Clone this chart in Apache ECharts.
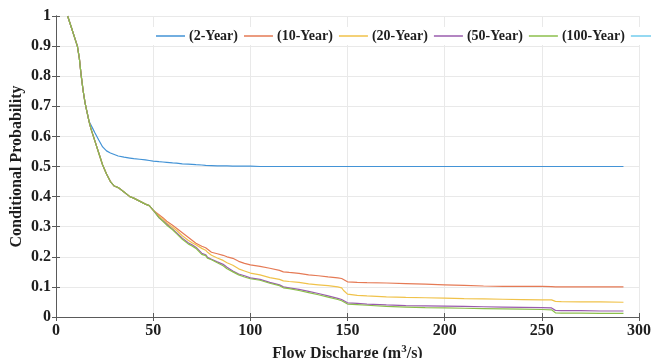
<!DOCTYPE html>
<html>
<head>
<meta charset="utf-8">
<script src="https://cdn.jsdelivr.net/npm/echarts@6/dist/echarts.min.js"></script>
<style>
  html, body { margin: 0; padding: 0; background: #fff; }
  #chart { width: 651px; height: 358px; }
</style>
</head>
<body>
<div id="chart"></div>
<script>
// flow discharge (m3/s) sample points
const discharge = [6, 8, 10, 11, 12, 13, 14, 15, 16, 17, 18, 19, 20, 22, 24, 26, 28, 30, 32, 35, 38, 40, 43, 46, 48, 50,
  53, 55, 57, 60, 62, 65, 68, 70, 72, 75, 77, 78, 80, 83, 86, 88, 91, 94, 97, 100, 105, 110, 115, 117, 120, 125, 130,
  135, 140, 145, 147, 148, 150, 155, 160, 170, 180, 190, 200, 210, 220, 230, 240, 250, 255, 257, 260, 270, 280, 292]

const year2 = [1, 0.96, 0.92, 0.9, 0.86, 0.8, 0.75, 0.71, 0.68, 0.65, 0.638, 0.625, 0.612, 0.588, 0.565, 0.552, 0.545, 0.54, 0.535, 0.531, 0.528, 0.526,
  0.524, 0.522, 0.52, 0.518, 0.516, 0.515, 0.514, 0.512, 0.511, 0.509, 0.508, 0.507, 0.506, 0.505, 0.504, 0.504, 0.503, 0.502, 0.502,
  0.502, 0.501, 0.501, 0.501, 0.501, 0.5, 0.5, 0.5, 0.5, 0.5, 0.5, 0.5, 0.5, 0.5, 0.5, 0.5, 0.5, 0.5, 0.5, 0.5, 0.5, 0.5, 0.5, 0.5,
  0.5, 0.5, 0.5, 0.5, 0.5, 0.5, 0.5, 0.5, 0.5, 0.5, 0.5]
const common = [1, 0.96, 0.92, 0.9, 0.86, 0.8, 0.75, 0.71, 0.68, 0.65, 0.625, 0.605, 0.585, 0.545, 0.505, 0.475, 0.45, 0.435, 0.43, 0.415,
  0.4, 0.395, 0.385, 0.375, 0.37, 0.355]
const year10 = common.concat([0.34, 0.33, 0.318, 0.305, 0.295, 0.28, 0.265, 0.255, 0.245, 0.235, 0.23, 0.225, 0.215, 0.21, 0.205, 0.2, 0.195,
  0.185, 0.178, 0.173, 0.168, 0.162, 0.155, 0.15, 0.148, 0.145, 0.14, 0.137, 0.133, 0.13, 0.128, 0.122, 0.117, 0.115, 0.114,
  0.113, 0.111, 0.109, 0.107, 0.105, 0.103, 0.102, 0.102, 0.102, 0.101, 0.1, 0.1, 0.1, 0.1, 0.1])
const year20 = common.concat([0.335, 0.325, 0.312, 0.298, 0.288, 0.27, 0.255, 0.247, 0.24, 0.228, 0.222, 0.215, 0.205, 0.196, 0.188, 0.18, 0.172,
  0.16, 0.153, 0.146, 0.14, 0.131, 0.125, 0.12, 0.118, 0.115, 0.11, 0.107, 0.104, 0.1, 0.097, 0.088, 0.076, 0.072, 0.07,
  0.067, 0.065, 0.064, 0.063, 0.061, 0.06, 0.059, 0.058, 0.057, 0.057, 0.052, 0.051, 0.05, 0.05, 0.049])
const year50 = common.concat([0.33, 0.32, 0.308, 0.292, 0.28, 0.262, 0.247, 0.24, 0.232, 0.212, 0.207, 0.198, 0.192, 0.183, 0.175, 0.165, 0.153,
  0.143, 0.137, 0.13, 0.125, 0.115, 0.107, 0.1, 0.097, 0.092, 0.085, 0.078, 0.07, 0.062, 0.058, 0.052, 0.047, 0.045, 0.043,
  0.04, 0.038, 0.037, 0.036, 0.035, 0.034, 0.033, 0.032, 0.031, 0.03, 0.022, 0.021, 0.021, 0.02, 0.02])
const year100 = common.concat([0.33, 0.318, 0.305, 0.29, 0.277, 0.258, 0.243, 0.236, 0.228, 0.208, 0.204, 0.195, 0.19, 0.18, 0.17, 0.16, 0.15,
  0.14, 0.133, 0.127, 0.122, 0.112, 0.104, 0.097, 0.094, 0.088, 0.081, 0.074, 0.066, 0.058, 0.054, 0.048, 0.043, 0.041, 0.039,
  0.035, 0.033, 0.031, 0.03, 0.029, 0.028, 0.027, 0.026, 0.025, 0.024, 0.014, 0.013, 0.013, 0.012, 0.012])

const seriesNames = ['(2-Year)', '(10-Year)', '(20-Year)', '(50-Year)', '(100-Year)', '(500-Year)']
const seriesValues = [year2, year10, year20, year50, year100, []]
const colors = ['#4393d6', '#e57a55', '#f0c24a', '#9a5cae', '#8cbf4c', '#72cdee']

const font = 'Liberation Serif'
const axisColor = '#5a5a5a'
const textColor = '#1e1e1e'

const chart = echarts.init(document.getElementById('chart'))

const pair = (vals) => vals.map((v, i) => [discharge[i], v])

chart.setOption({
  animation: false,
  color: colors,
  grid: { left: 56, right: 12, top: 16, bottom: 41, outerBoundsMode: 'none' },
  legend: {
    left: 153,
    top: 27,
    width: 900,
    padding: [2, 3],
    backgroundColor: '#fff',
    icon: 'rect',
    itemWidth: 29,
    itemHeight: 1.5,
    itemGap: 6,
    textStyle: { fontFamily: font, fontWeight: 'bold', fontSize: 14, color: textColor, padding: [0, 0, 0, -1] },
    data: seriesNames
  },
  xAxis: [{
    type: 'value', min: 0, max: 300, interval: 50,
    name: 'Flow Discharge (m{sup|3}/s)',
    nameLocation: 'middle', nameGap: 26,
    nameTextStyle: {
      fontFamily: font, fontWeight: 'bold', fontSize: 16, color: textColor,
      rich: { sup: { fontFamily: font, fontWeight: 'bold', fontSize: 11, color: textColor, verticalAlign: 'top', padding: [0, 0, 8, 0] } }
    },
    axisLine: { lineStyle: { color: axisColor, width: 1 } },
    axisTick: { inside: true, length: 4, lineStyle: { color: axisColor } },
    axisLabel: { fontFamily: font, fontWeight: 'bold', fontSize: 16, color: textColor, margin: 6 },
    splitLine: { show: true, lineStyle: { color: '#e9e9e9' } }
  }, {
    type: 'value', min: 0, max: 300, interval: 50, position: 'top',
    axisLine: { show: true, lineStyle: { color: axisColor, width: 1 } },
    axisTick: { inside: true, length: 4, lineStyle: { color: axisColor } },
    axisLabel: { show: false },
    splitLine: { show: false }
  }],
  yAxis: [{
    type: 'value', min: 0, max: 1, interval: 0.1,
    name: 'Conditional Probability',
    nameLocation: 'middle', nameGap: 31, nameMoveOverlap: false,
    nameTextStyle: { fontFamily: font, fontWeight: 'bold', fontSize: 16, color: textColor },
    axisLine: { show: true, lineStyle: { color: axisColor, width: 1 } },
    axisTick: { show: true, inside: true, length: 4, lineStyle: { color: axisColor } },
    axisLabel: { fontFamily: font, fontWeight: 'bold', fontSize: 16, color: textColor, margin: 5 },
    splitLine: { show: true, lineStyle: { color: '#e9e9e9' } }
  }, {
    type: 'value', min: 0, max: 1, interval: 0.1, position: 'right',
    axisLine: { show: true, lineStyle: { color: axisColor, width: 1 } },
    axisTick: { show: true, inside: true, length: 4, lineStyle: { color: axisColor } },
    axisLabel: { show: false },
    splitLine: { show: false }
  }],
  series: seriesNames.map((name, i) => ({
    name,
    type: 'line',
    symbol: 'none',
    lineStyle: { width: 1.2 },
    data: pair(seriesValues[i])
  }))
})
</script>
</body>
</html>
